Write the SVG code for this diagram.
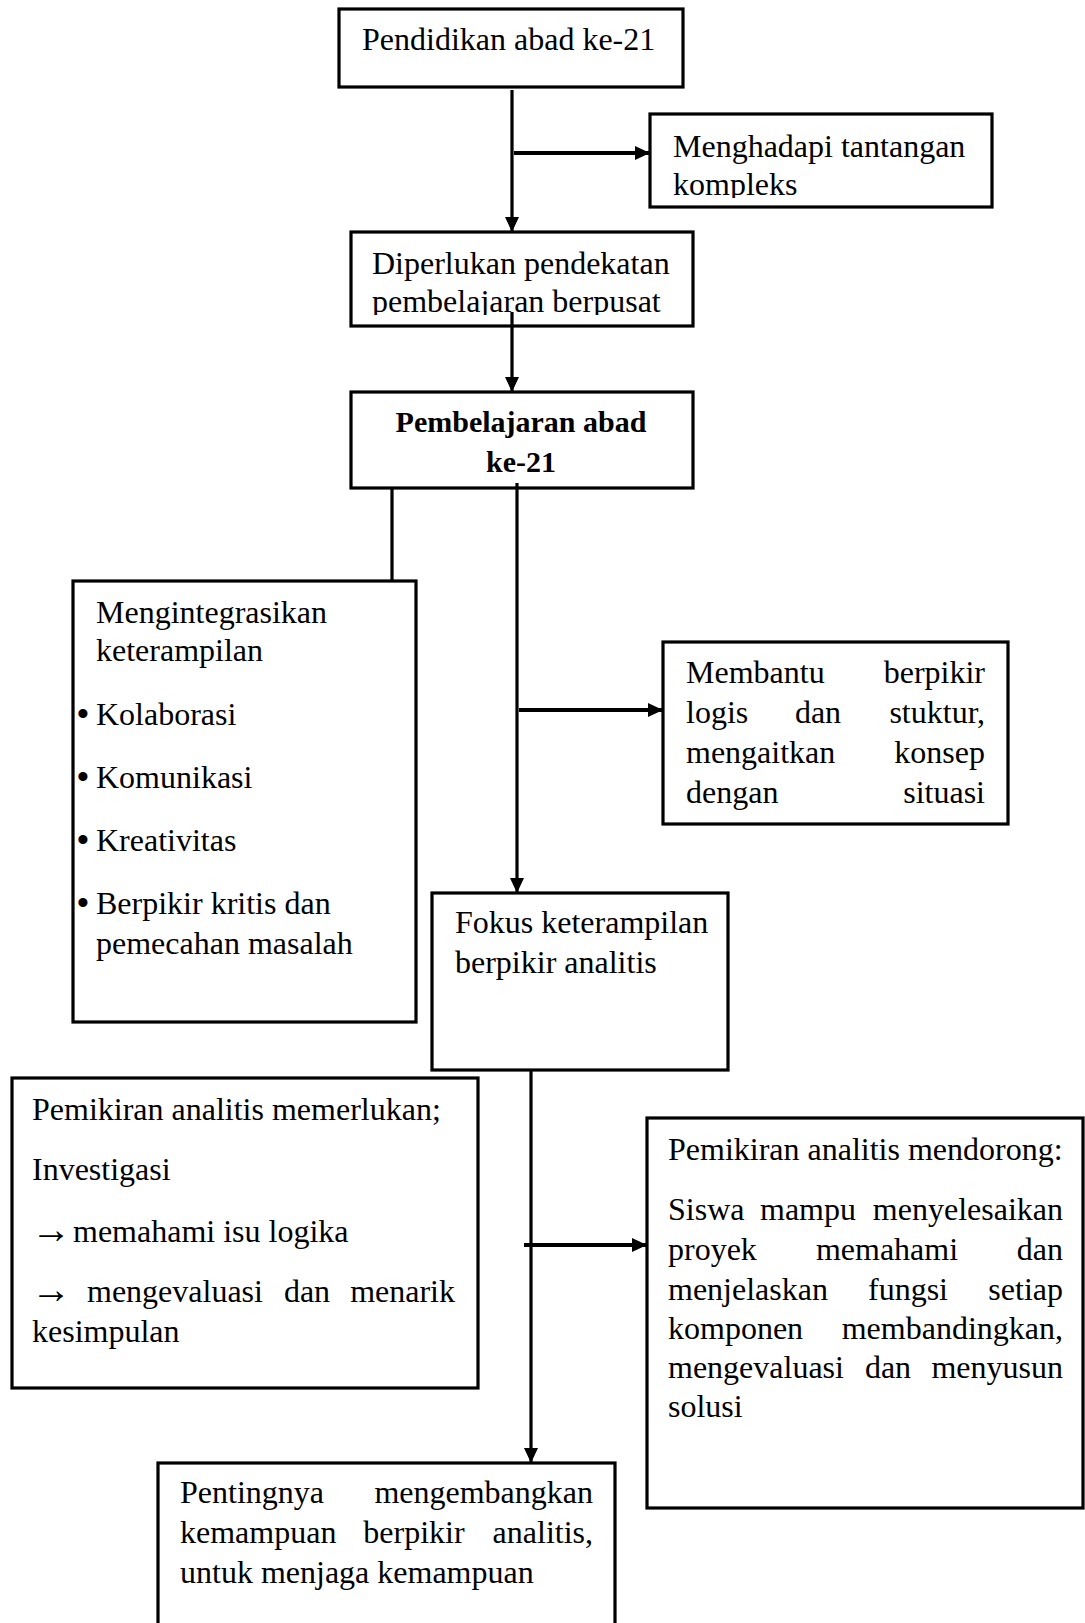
<svg xmlns="http://www.w3.org/2000/svg" width="1085" height="1623" viewBox="0 0 1085 1623">
<style>
  .box { fill: #ffffff; stroke: #000000; stroke-width: 3.2; }
  .t { font-family: "Liberation Serif", "Times New Roman", serif; font-size: 32px; fill: #000000; }
  .b { font-family: "Liberation Serif", "Times New Roman", serif; font-size: 30px; font-weight: bold; fill: #000000; text-anchor: middle; }
  .m { text-anchor: middle; }
  .e { text-anchor: end; }
  .ar { font-size: 40px; }
  .bul { font-family: "Liberation Serif", "Times New Roman", serif; font-size: 38px; fill: #000000; text-anchor: middle; }
  .c { fill: none; stroke: #000000; stroke-width: 3.2; }
  .cb { fill: none; stroke: #000000; stroke-width: 4.2; }
</style>
<defs>
  <marker id="arr" markerUnits="userSpaceOnUse" markerWidth="15" markerHeight="14" refX="15" refY="7" orient="auto">
    <path d="M0,0 L15,7 L0,14 Z" fill="#000000"/>
  </marker>
  <clipPath id="clipA"><rect x="650" y="114" width="342" height="84"/></clipPath>
  <clipPath id="clipB"><rect x="351" y="232" width="342" height="83"/></clipPath>
</defs>

<g id="n1">
  <rect class="box" x="339" y="9" width="344" height="78"/>
  <text class="t" x="362" y="50">Pendidikan abad ke-21</text>
</g>

<g id="n2">
  <rect class="box" x="650" y="114" width="342" height="93"/>
  <g clip-path="url(#clipA)">
    <text class="t" x="673" y="157">Menghadapi tantangan</text>
    <text class="t" x="673" y="195">kompleks</text>
  </g>
</g>

<g id="n3">
  <rect class="box" x="351" y="232" width="342" height="94"/>
  <g clip-path="url(#clipB)">
    <text class="t" x="372" y="274">Diperlukan pendekatan</text>
    <text class="t" x="372" y="312">pembelajaran berpusat</text>
  </g>
</g>

<g id="n4">
  <rect class="box" x="351" y="392" width="342" height="96"/>
  <text class="b" x="521" y="432">Pembelajaran abad</text>
  <text class="b" x="521" y="472">ke-21</text>
</g>

<g id="n5">
  <rect class="box" x="73" y="581" width="343" height="441"/>
  <text class="t" x="96" y="623">Mengintegrasikan</text>
  <text class="t" x="96" y="661">keterampilan</text>
  <text class="bul" x="83" y="727">•</text>
  <text class="t" x="96" y="725">Kolaborasi</text>
  <text class="bul" x="83" y="790">•</text>
  <text class="t" x="96" y="788">Komunikasi</text>
  <text class="bul" x="83" y="853">•</text>
  <text class="t" x="96" y="851">Kreativitas</text>
  <text class="bul" x="83" y="916">•</text>
  <text class="t" x="96" y="914">Berpikir kritis dan</text>
  <text class="t" x="96" y="954">pemecahan masalah</text>
</g>

<g id="n6">
  <rect class="box" x="663" y="642" width="345" height="182"/>
  <text class="t" x="686" y="683">Membantu</text>
  <text class="t e" x="985" y="683">berpikir</text>
  <text class="t" x="686" y="723">logis</text>
  <text class="t m" x="818" y="723">dan</text>
  <text class="t e" x="985" y="723">stuktur,</text>
  <text class="t" x="686" y="763">mengaitkan</text>
  <text class="t e" x="985" y="763">konsep</text>
  <text class="t" x="686" y="803">dengan</text>
  <text class="t e" x="985" y="803">situasi</text>
</g>

<g id="n7">
  <rect class="box" x="432" y="893" width="296" height="177"/>
  <text class="t" x="455" y="933">Fokus keterampilan</text>
  <text class="t" x="455" y="973">berpikir analitis</text>
</g>

<g id="n8">
  <rect class="box" x="12" y="1078" width="466" height="310"/>
  <text class="t" x="32" y="1120">Pemikiran analitis memerlukan;</text>
  <text class="t" x="32" y="1180">Investigasi</text>
  <text class="t ar" x="31" y="1243">→</text>
  <text class="t" x="73" y="1242">memahami isu logika</text>
  <text class="t ar" x="31" y="1303">→</text>
  <text class="t" x="87" y="1302">mengevaluasi</text>
  <text class="t m" x="307" y="1302">dan</text>
  <text class="t e" x="455" y="1302">menarik</text>
  <text class="t" x="32" y="1342">kesimpulan</text>
</g>

<g id="n9">
  <rect class="box" x="647" y="1118" width="436" height="390"/>
  <text class="t" x="668" y="1160">Pemikiran analitis mendorong:</text>
  <text class="t" x="668" y="1220">Siswa</text>
  <text class="t m" x="808" y="1220">mampu</text>
  <text class="t e" x="1063" y="1220">menyelesaikan</text>
  <text class="t" x="668" y="1260">proyek</text>
  <text class="t m" x="887" y="1260">memahami</text>
  <text class="t e" x="1063" y="1260">dan</text>
  <text class="t" x="668" y="1300">menjelaskan</text>
  <text class="t m" x="908" y="1300">fungsi</text>
  <text class="t e" x="1063" y="1300">setiap</text>
  <text class="t" x="668" y="1339">komponen</text>
  <text class="t e" x="1063" y="1339">membandingkan,</text>
  <text class="t" x="668" y="1378">mengevaluasi</text>
  <text class="t m" x="888" y="1378">dan</text>
  <text class="t e" x="1063" y="1378">menyusun</text>
  <text class="t" x="668" y="1417">solusi</text>
</g>

<g id="n10">
  <rect class="box" x="158" y="1463" width="457" height="200"/>
  <text class="t" x="180" y="1503">Pentingnya</text>
  <text class="t e" x="593" y="1503">mengembangkan</text>
  <text class="t" x="180" y="1543">kemampuan</text>
  <text class="t m" x="414" y="1543">berpikir</text>
  <text class="t e" x="593" y="1543">analitis,</text>
  <text class="t" x="180" y="1583">untuk menjaga kemampuan</text>
</g>

<g id="connectors">
  <line class="c" x1="512" y1="90" x2="512" y2="232" marker-end="url(#arr)"/>
  <line class="cb" x1="514" y1="153" x2="650" y2="153" marker-end="url(#arr)"/>
  <line class="c" x1="512" y1="312" x2="512" y2="392" marker-end="url(#arr)"/>
  <line class="c" x1="392" y1="488" x2="392" y2="581"/>
  <line class="c" x1="517" y1="483" x2="517" y2="893" marker-end="url(#arr)"/>
  <line class="cb" x1="519" y1="710" x2="663" y2="710" marker-end="url(#arr)"/>
  <line class="c" x1="531" y1="1070" x2="531" y2="1463" marker-end="url(#arr)"/>
  <line class="cb" x1="524" y1="1245" x2="647" y2="1245" marker-end="url(#arr)"/>
</g>
</svg>
